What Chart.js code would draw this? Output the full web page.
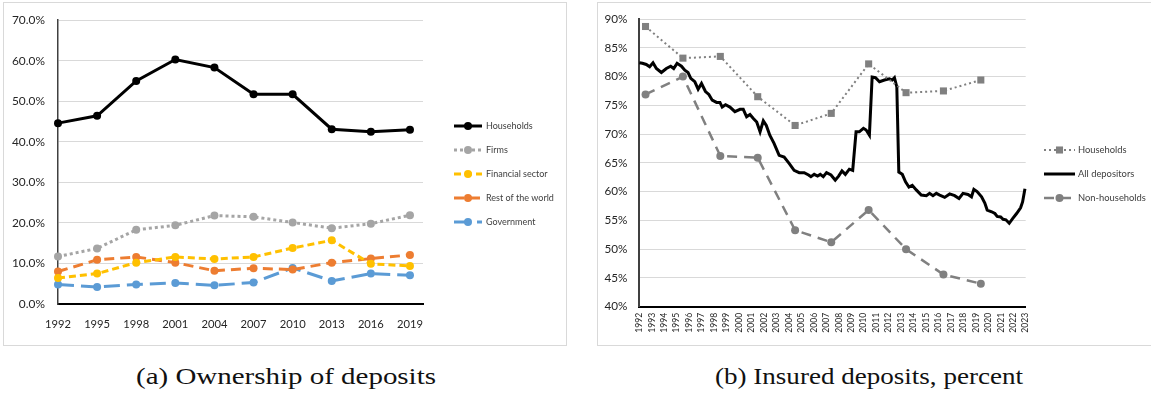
<!DOCTYPE html>
<html>
<head>
<meta charset="utf-8">
<script src="https://cdn.jsdelivr.net/npm/chart.js@4.4.1/dist/chart.umd.min.js"></script>
<style>
html,body{margin:0;padding:0;background:#fff;width:1151px;height:394px;overflow:hidden;position:relative;}
.panel{position:absolute;border:1px solid #d9d9d9;box-sizing:border-box;}
#pa{left:3px;top:2px;width:564px;height:344px;}
#pb{left:597px;top:2px;width:600px;height:344px;}
canvas{position:absolute;top:0;}
#ca{left:0;}
#cb{left:590px;}
.cap{position:absolute;top:364px;font-family:'Liberation Serif','Times New Roman',serif;font-size:24px;line-height:24px;color:#111;white-space:nowrap;transform-origin:0 0;}
</style>
</head>
<body>
<div class="panel" id="pa"></div>
<div class="panel" id="pb"></div>
<canvas id="ca" width="580" height="350"></canvas>
<canvas id="cb" width="561" height="350"></canvas>
<div class="cap" id="capA">(a) Ownership of deposits</div>
<div class="cap" id="capB">(b) Insured deposits, percent</div>
<script>
// ---------- Panel (a): Ownership of deposits (percent) ----------
const yearsA = [1992, 1995, 1998, 2001, 2004, 2007, 2010, 2013, 2016, 2019];
const households = [44.6, 46.4, 55.0, 60.3, 58.3, 51.7, 51.7, 43.1, 42.5, 43.0];
const firms = [11.7, 13.7, 18.3, 19.4, 21.8, 21.5, 20.1, 18.7, 19.8, 21.9];
const financialSector = [6.4, 7.5, 10.2, 11.6, 11.1, 11.6, 13.8, 15.7, 9.9, 9.4];
const restOfWorld = [8.0, 10.9, 11.6, 10.2, 8.2, 8.8, 8.5, 10.2, 11.2, 12.1];
const government = [4.8, 4.2, 4.8, 5.2, 4.6, 5.3, 8.9, 5.7, 7.5, 7.1];
const xTicksA = [1992, 1995, 1998, 2001, 2004, 2007, 2010, 2013, 2016, 2019];
const yTicksA = [0, 10, 20, 30, 40, 50, 60, 70];

// ---------- Panel (b): Insured deposits, percent ----------
const xTicksB = [1992,1993,1994,1995,1996,1997,1998,1999,2000,2001,2002,2003,2004,2005,2006,2007,
                 2008,2009,2010,2011,2012,2013,2014,2015,2016,2017,2018,2019,2020,2021,2022,2023];
const yTicksB = [40, 45, 50, 55, 60, 65, 70, 75, 80, 85, 90];
const surveyYears = [1992.5, 1995.5, 1998.5, 2001.5, 2004.5, 2007.4, 2010.4, 2013.4, 2016.4, 2019.4];
const hhInsured = [88.7, 83.2, 83.5, 76.5, 71.5, 73.6, 82.2, 77.2, 77.5, 79.4];
const nonHhInsured = [76.9, 80.0, 66.2, 65.9, 53.3, 51.2, 56.8, 50.0, 45.6, 44.0];
const allDates = [1992.0,1992.25,1992.56,1992.83,1993.1,1993.37,1993.77,1994.17,1994.52,1994.76,
  1995.03,1995.38,1995.65,1995.91,1996.13,1996.45,1996.72,1996.99,1997.31,1997.58,1997.85,
  1998.2,1998.47,1998.65,1998.92,1999.27,1999.67,2000.08,2000.34,2000.61,2000.88,2001.15,
  2001.42,2001.69,2001.95,2002.19,2002.47,2002.81,2003.22,2003.62,2004.02,2004.42,2004.83,
  2005.23,2005.58,2005.77,2006.03,2006.3,2006.52,2006.76,2007.02,2007.38,2007.72,2007.99,
  2008.26,2008.53,2008.85,2009.12,2009.39,2009.65,2009.98,2010.2,2010.46,2010.68,2010.95,
  2011.27,2011.67,2012.07,2012.29,2012.47,2012.66,2012.82,2013.1,2013.36,2013.63,2013.9,
  2014.22,2014.62,2015.03,2015.29,2015.56,2015.83,2016.1,2016.5,2016.9,2017.3,2017.65,
  2017.97,2018.37,2018.65,2018.84,2019.1,2019.46,2019.72,2019.91,2020.27,2020.53,2020.71,
  2020.99,2021.19,2021.41,2021.68,2021.95,2022.27,2022.59,2022.75,2022.94];
const allInsured = [82.4,82.3,82.1,81.7,82.4,81.4,80.7,81.4,81.8,81.4,
  82.3,81.8,81.1,80.7,79.7,79.1,77.8,78.8,77.4,76.9,75.9,
  75.5,75.5,74.7,75.1,74.7,73.9,74.3,74.3,73.0,73.4,72.7,
  72.1,70.4,72.3,71.5,69.8,68.4,66.3,66.0,64.9,63.7,63.3,
  63.3,62.9,62.6,63.0,62.7,63.0,62.6,63.3,62.9,62.0,62.7,
  63.6,63.0,63.9,63.7,70.4,70.4,71.0,70.7,69.8,79.9,79.8,
  79.1,79.4,79.6,79.4,79.8,78.2,63.4,63.0,61.7,60.8,61.1,
  60.3,59.4,59.3,59.7,59.3,59.7,59.4,59.0,59.6,59.3,58.8,
  59.7,59.5,59.1,60.4,60.0,59.1,58.0,56.8,56.5,56.2,55.7,
  55.6,55.2,55.1,54.5,55.3,56.2,57.2,58.2,60.5];

// ---------- helpers ----------
const FONT = "Lato, 'Liberation Sans', sans-serif";
const mctx = document.createElement('canvas').getContext('2d');
function fitSize(text, target) {
  mctx.font = '100px ' + FONT;
  return Math.round(100 * target / mctx.measureText(text).width * 10) / 10;
}
const fsAy = fitSize('70.0%', 33), fsAx = fitSize('1992', 26), fsAl = fitSize('Households', 46.6);
const fsBy = fitSize('90%', 23), fsBx = fitSize('1992', 20), fsBl = fitSize('Households', 49);

const pts = (xs, ys) => xs.map((x, i) => ({x: x, y: ys[i]}));
const tickList = arr => (scale) => { scale.ticks = arr.map(v => ({value: v})); };

const lineLegend = {
  id: 'lineLegend',
  afterDraw(chart, args, o) {
    if (!o || !o.enabled) return;
    const ctx = chart.ctx;
    chart.data.datasets.forEach((ds, i) => {
      const y = o.y0 + i * o.gap;
      const x1 = o.x0, x2 = o.x0 + o.len, xm = (x1 + x2) / 2;
      ctx.save();
      ctx.strokeStyle = ds.borderColor;
      ctx.lineWidth = ds.borderWidth;
      ctx.setLineDash(ds.borderDash || []);
      ctx.lineCap = ds.borderCapStyle || 'butt';
      ctx.beginPath(); ctx.moveTo(x1, y); ctx.lineTo(x2, y); ctx.stroke();
      ctx.setLineDash([]);
      const r = ds.pointRadius || 0;
      if (r > 0) {
        ctx.fillStyle = ds.pointBackgroundColor || ds.borderColor;
        ctx.beginPath();
        if (ds.pointStyle === 'rect') { const s = r * Math.SQRT1_2; ctx.rect(xm - s, y - s, 2 * s, 2 * s); }
        else ctx.arc(xm, y, r, 0, Math.PI * 2);
        ctx.fill();
      }
      ctx.fillStyle = o.color;
      ctx.font = o.font;
      ctx.textBaseline = 'middle';
      ctx.textAlign = 'left';
      ctx.fillText(ds.label, x2 + o.textGap, y);
      ctx.restore();
    });
  }
};

function series(label, xs, ys, color, width, dash, radius, style) {
  return {
    label: label, data: pts(xs, ys),
    borderColor: color, backgroundColor: color,
    pointBackgroundColor: color, pointBorderColor: color, pointBorderWidth: 0,
    borderWidth: width, borderDash: dash, pointRadius: radius, pointHoverRadius: radius,
    pointStyle: style || 'circle', tension: 0, clip: false, fill: false
  };
}

// ---------- Chart (a) ----------
new Chart(document.getElementById('ca'), {
  type: 'line',
  data: {
    datasets: [
      series('Households', yearsA, households, '#000000', 3, [], 4),
      series('Firms', yearsA, firms, '#a5a5a5', 3, [3, 3], 4),
      series('Financial sector', yearsA, financialSector, '#ffc000', 3, [7, 4], 4),
      series('Rest of the world', yearsA, restOfWorld, '#ed7d31', 3, [10, 6], 4),
      series('Government', yearsA, government, '#5b9bd5', 3, [16, 7], 4)
    ]
  },
  plugins: [lineLegend],
  options: {
    responsive: false, animation: false, events: [],
    layout: {padding: {left: 0, top: 20, right: 157, bottom: 0}},
    plugins: {
      legend: {display: false}, tooltip: {enabled: false},
      lineLegend: {enabled: true, x0: 454, len: 28, textGap: 4, y0: 126, gap: 24,
                   font: fsAl + "px " + FONT, color: '#404040'}
    },
    scales: {
      x: {
        type: 'linear', min: 1992, max: 2020,
        afterBuildTicks: tickList(xTicksA),
        afterFit: s => { s.height = 46; },
        grid: {display: false, drawTicks: false},
        border: {display: true, color: '#000000', width: 2},
        ticks: {padding: 14, color: '#262626', font: {family: FONT, size: fsAx},
                maxRotation: 0, minRotation: 0, autoSkip: false, callback: v => String(v)}
      },
      y: {
        min: 0, max: 70,
        afterBuildTicks: tickList(yTicksA),
        afterFit: s => { s.width = 58; },
        grid: {color: '#d9d9d9', lineWidth: 1, drawTicks: false},
        border: {display: true, color: '#404040', width: 1.5},
        ticks: {padding: 13, color: '#262626', font: {family: FONT, size: fsAy},
                callback: v => v.toFixed(1) + '%'}
      }
    }
  }
});

// ---------- Chart (b) ----------
new Chart(document.getElementById('cb'), {
  type: 'line',
  data: {
    datasets: [
      series('Households', surveyYears, hhInsured, '#808080', 2, [2, 3], 5, 'rect'),
      series('All depositors', allDates, allInsured, '#000000', 3, [], 0),
      series('Non-households', surveyYears, nonHhInsured, '#808080', 2.5, [10, 7], 4)
    ]
  },
  plugins: [lineLegend],
  options: {
    responsive: false, animation: false, events: [],
    layout: {padding: {left: 0, top: 18.7, right: 125.3, bottom: 0}},
    plugins: {
      legend: {display: false}, tooltip: {enabled: false},
      lineLegend: {enabled: true, x0: 454, len: 31, textGap: 3, y0: 150, gap: 24,
                   font: fsBl + "px " + FONT, color: '#404040'}
    },
    scales: {
      x: {
        type: 'linear', min: 1992, max: 2023,
        afterBuildTicks: tickList(xTicksB),
        afterFit: s => { s.height = 43.3; },
        grid: {display: false, drawTicks: false},
        border: {display: true, color: '#000000', width: 2},
        ticks: {padding: 6, color: '#262626', font: {family: FONT, size: fsBx},
                maxRotation: 90, minRotation: 90, autoSkip: false, callback: v => String(v)}
      },
      y: {
        min: 40, max: 90,
        afterBuildTicks: tickList(yTicksB),
        afterFit: s => { s.width = 49.3; },
        grid: {color: '#d9d9d9', lineWidth: 1, drawTicks: false},
        border: {display: true, color: '#404040', width: 2},
        ticks: {padding: 12, color: '#262626', font: {family: FONT, size: fsBy},
                callback: v => v + '%'}
      }
    }
  }
});

// ---------- captions ----------
function placeCaption(id, center, targetWidth) {
  const el = document.getElementById(id);
  const w = el.getBoundingClientRect().width;
  const k = targetWidth / w;
  el.style.left = (center - targetWidth / 2) + 'px';
  el.style.transform = 'scaleX(' + k + ')';
}
placeCaption('capA', 286, 300);
placeCaption('capB', 869, 308);
</script>
</body>
</html>
